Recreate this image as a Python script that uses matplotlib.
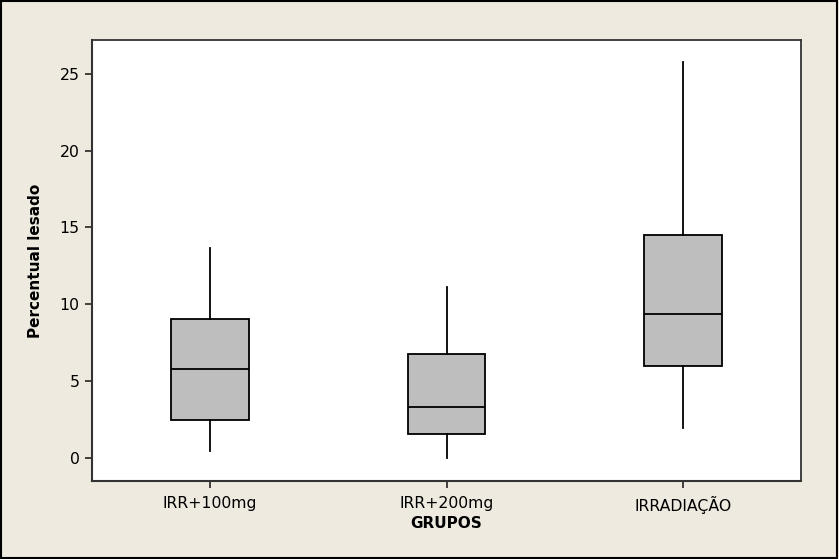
import matplotlib
matplotlib.use("Agg")
import matplotlib.pyplot as plt
from matplotlib.patches import Rectangle

groups = ["IRR+100mg", "IRR+200mg", "IRRADIAÇÃO"]
whisker_low = [0.46, 0.0, 1.95]
q1 = [2.47, 1.56, 6.0]
median = [5.79, 3.32, 9.38]
q3 = [9.05, 6.77, 14.5]
whisker_high = [13.67, 11.13, 25.8]
yticks = [0, 5, 10, 15, 20, 25]

bg = "#EEEAE0"
plt.rcParams['font.family'] = ['DejaVu Sans']

fig = plt.figure(figsize=(8.39, 5.59), dpi=100, facecolor=bg)
ax = fig.add_axes([92 / 839, 78 / 559, 709 / 839, 441 / 559])
ax.set_facecolor("white")

stats = []
for i in range(len(groups)):
    stats.append({
        "label": groups[i],
        "whislo": whisker_low[i],
        "q1": q1[i],
        "med": median[i],
        "q3": q3[i],
        "whishi": whisker_high[i],
        "fliers": [],
    })

ax.bxp(stats, positions=[1, 2, 3], widths=0.33, patch_artist=True,
       showcaps=False, showfliers=False,
       boxprops=dict(facecolor="#BEBEBE", edgecolor="black", linewidth=1.3),
       medianprops=dict(color="black", linewidth=1.3),
       whiskerprops=dict(color="black", linewidth=1.3))

ax.set_xlim(0.5, 3.5)
ax.set_ylim(-1.5, 27.2)
ax.set_yticks(yticks)
ax.set_xticks([1, 2, 3])
ax.set_xticklabels(groups)
ax.tick_params(axis="both", direction="out", length=5, width=1.3,
               color="#333333", labelsize=11.3, pad=4)
ax.tick_params(axis="x", pad=6)
for side in ["left", "bottom"]:
    ax.spines[side].set_color("#333333")
    ax.spines[side].set_linewidth(1.5)
for side in ["top", "right"]:
    ax.spines[side].set_color("#333333")
    ax.spines[side].set_linewidth(1.3)

ax.set_ylabel("Percentual lesado", fontsize=11, fontweight="bold", labelpad=12)
ax.set_xlabel("GRUPOS", fontsize=11, fontweight="bold", labelpad=1)

fig.patches.append(Rectangle((0.001, 0.002), 0.997, 0.996, transform=fig.transFigure,
                             fill=False, edgecolor="black", linewidth=1.5))

fig.savefig("out.png", dpi=100, facecolor=bg)
